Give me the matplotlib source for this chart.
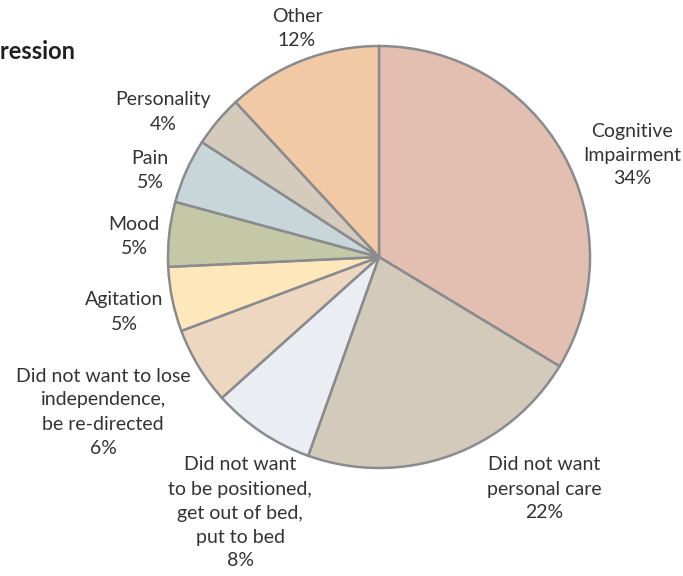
import matplotlib
matplotlib.use("Agg")
import matplotlib.pyplot as plt
import numpy as np

plt.rcParams['font.family'] = ['Lato', 'DejaVu Sans']

categories = ["Cognitive\nImpairment", "Did not want\npersonal care",
              "Did not want\nto be positioned,\nget out of bed,\nput to bed",
              "Did not want to lose\nindependence,\nbe re-directed",
              "Agitation", "Mood", "Pain", "Personality", "Other"]
values = [34, 22, 8, 6, 5, 5, 5, 4, 12]
colors = ["#e3bfb2", "#d4cabc", "#eaeef2", "#eed7c0", "#fde7bb",
          "#c4c8a6", "#c8d6da", "#d4cbbd", "#f2c9a5"]
# label centre positions in pixels (layout)
label_px = [(632, 155), (544, 489), (240, 513), (103, 412), (124, 312),
            (134, 237), (150, 170), (163, 112), (297, 29)]

W, H = 683, 576
fig = plt.figure(figsize=(W / 100, H / 100), dpi=100)
cx, cy, r = 379, 257, 211
ax = fig.add_axes([(cx - r) / W, (H - cy - r) / H, 2 * r / W, 2 * r / H])
ax.pie(values, colors=colors, startangle=90, counterclock=False, radius=1,
       wedgeprops=dict(edgecolor="#8a8b8e", linewidth=1.8))
ax.set_xlim(-1, 1)
ax.set_ylim(-1, 1)
ax.set_aspect('equal')
ax.axis('off')

for cat, v, (px, py) in zip(categories, values, label_px):
    fig.text(px / W, 1 - py / H, f"{cat}\n{v}%", ha='center', va='center',
             fontsize=14, color="#333333", linespacing=1.5)

fig.text(75 / W, 1 - 59 / H, "Triggers of Aggression", ha='right', va='baseline',
         fontsize=17, fontweight='bold', color="#231f20")

fig.savefig("out.png", dpi=100)
